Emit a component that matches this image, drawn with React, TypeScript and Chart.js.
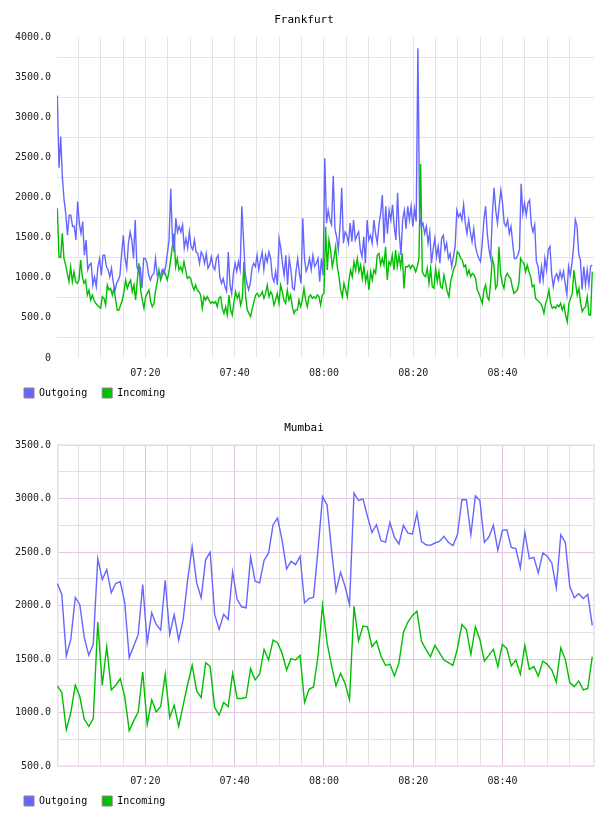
import React, { useEffect, useRef } from 'react';
import { Chart, registerables } from 'chart.js';

Chart.register(...registerables);

const FONT = '"DejaVu Sans Mono", monospace';
const SERIES_NAMES = ['Outgoing', 'Incoming'];
const SERIES_COLORS = ['rgb(102,102,255)', 'rgb(0,190,0)'];

// Sampling window (minutes after midnight) of the recorded data
const SAMPLE_START = 420.27; // ~07:00:16
const SAMPLE_END = 540.11; // ~09:00:07
// Axis window
const X_MIN = 420.2;
const X_MAX = 540.5;
const X_GRID_MINUTES = [425, 430, 435, 440, 445, 450, 455, 460, 465, 470, 475, 480, 485, 490, 495, 500, 505, 510, 515, 520, 525, 530, 535];
const X_TICK_LABELS = ['07:20', '07:40', '08:00', '08:20', '08:40'];

const FRANKFURT_Y_TICKS = [0, 250, 500, 750, 1000, 1250, 1500, 1750, 2000, 2250, 2500, 2750, 3000, 3250, 3500, 3750, 4000];
const MUMBAI_Y_TICKS = [500, 750, 1000, 1250, 1500, 1750, 2000, 2250, 2500, 2750, 3000, 3250, 3500];

const FRANKFURT_OUT = [
  3270, 2370, 2760, 2250,
  1970, 1800, 1530, 1780, 1780, 1640, 1645, 1470, 1950, 1680,
  1550, 1700, 1280, 1470, 1100, 1160, 1180, 910, 1010, 890,
  1140, 1240, 1030, 1280, 1280, 1140, 1100, 1010, 1120, 950,
  830, 930, 970, 1030, 1300, 1530, 1240, 1120, 1430, 1570,
  1470, 1240, 1720, 1140, 1080, 1120, 870, 1240, 1240, 1180,
  1030, 970, 1030, 1050, 1240, 1030, 1050, 1030, 1100, 1050,
  1140, 1300, 1470, 2110, 1470, 1320, 1740, 1570, 1640, 1570,
  1660, 1370, 1490, 1370, 1570, 1390, 1350, 1470, 1320, 1300,
  1180, 1320, 1280, 1180, 1300, 1120, 1160, 1260, 1140, 1100,
  1240, 1280, 1010, 930, 990, 890, 830, 1320, 910, 800,
  1050, 1180, 1080, 1200, 1100, 1890, 1470, 1050, 930, 850,
  930, 1120, 1180, 1140, 1280, 1100, 1220, 1320, 1100, 1280,
  1200, 1320, 1240, 1010, 950, 1080, 910, 1490, 1370, 1180,
  1030, 1280, 910, 1240, 1100, 870, 850, 1080, 1240, 1050,
  930, 1740,
  1240, 1080, 1140, 1240, 1100, 1280, 1140, 1180, 1240, 950,
  1240, 1030, 2490, 1680, 1840, 1720, 1660, 2270, 1610, 1510,
  1350, 1640, 2120, 1430, 1570, 1530, 1430, 1680, 1450, 1720,
  1470, 1530, 1570, 1350, 1260, 1510, 1180, 1720, 1470, 1530,
  1430, 1720, 1550, 1430, 1660, 1800, 2030, 1430, 1890, 1550,
  1840, 1720, 1910, 1640, 1470, 2060, 1550, 1280, 1720, 1840,
  1610, 1890, 1720, 1890, 1640, 1860, 1700, 3860, 1760, 1640,
  1680, 1550, 1640, 1430, 1570, 1180, 1350, 1490, 1260, 1390,
  1180, 1490, 1530, 1350, 1430, 1240, 1300, 1140, 1260, 1390,
  1840, 1760, 1800, 1720, 1910, 1680, 1550, 1720, 1570, 1450,
  1610, 1390, 1300, 1240, 1200, 1430, 1720, 1890, 1550, 1350,
  1240, 1800, 2120, 1840, 1680, 1890, 2090, 1930, 1680, 1640,
  1720, 1550, 1640, 1430, 1240, 1240, 1280, 1350, 2170, 1800,
  1930, 1780, 1930, 1970, 1660, 1570, 1660, 1200, 1140, 930,
  1140, 970, 1240, 1100, 1350, 1390, 1050, 890, 1010, 1050,
  970, 1080, 990, 1080, 930, 790, 1140, 1030, 1180, 1390,
  1720, 1640, 1300, 1220, 850, 1140, 910, 1100, 910, 1140,
  1160,
];

const FRANKFURT_IN = [
  1865, 1262, 1250, 1553, 1241,
  1158, 1054, 951, 1137, 951, 1075, 951, 930, 971, 1220,
  1013, 930, 971, 785, 847, 722, 785, 722, 681, 660,
  639, 619, 764, 743, 660, 909, 847, 868, 785, 868,
  722, 598, 598, 660, 722, 826, 971, 868, 930, 971,
  826, 909, 722, 971, 1179, 847, 722, 619, 764, 805,
  847, 702, 639, 681, 847, 951, 1096, 971, 1034, 1096,
  1034, 971, 1075, 1220, 1386, 1553, 1137, 1241, 1096, 1137,
  1075, 1200, 1096, 992, 1013, 992, 909, 847, 909, 847,
  826, 785, 619, 764, 722, 764, 722, 681, 702, 681,
  702, 639, 743, 764, 619, 556, 639, 535, 785, 598,
  535, 702, 826, 743, 805, 660, 743, 1200, 764, 598,
  556, 515, 619, 702, 785, 805, 764, 785, 826, 743,
  805, 909, 764, 826, 785, 660, 722, 805, 681, 909,
  826, 722, 681, 847, 722, 785, 639, 556, 598, 598,
  722, 639, 722, 868,
  722, 639, 764, 785, 743, 764, 743, 785, 764, 660,
  785, 805, 1636, 1096, 1470, 1345, 1137, 1241, 1386, 1137,
  1013, 847, 764, 930, 847, 764, 971, 1096, 1013, 1200,
  1096, 1241, 1075, 1158, 992, 1137, 951, 1054, 847, 1075,
  971, 1096, 1054, 1283, 1303, 1158, 1241, 1158, 1386, 971,
  1200, 1158, 1283, 1096, 1345, 1137, 1283, 1137, 1303, 868,
  1137, 1137, 1158, 1117, 1158, 1137, 1075, 1137, 1241, 2417,
  1075, 1034, 1013, 1117, 930, 1117, 888, 868, 1117, 951,
  1075, 888, 868, 1034, 930, 826, 764, 951, 1034, 1117,
  1158, 1324, 1303, 1241, 1220, 1137, 1158, 1034, 1096, 1013,
  1054, 1034, 992, 847, 805, 743, 681, 847, 909, 764,
  722, 930, 1241, 1158, 868, 909, 1386, 1054, 930, 868,
  1013, 1054, 1013, 992, 888, 805, 826, 847, 930, 1241,
  1200, 1179, 1075, 1158, 1075, 1013, 888, 909, 743, 722,
  702, 681, 639, 556, 681, 743, 847, 681, 619, 639,
  619, 660, 639, 681, 598, 660, 535, 452, 681, 743,
  805, 1096, 930, 785, 868, 681, 577, 619, 639, 764,
  535, 535, 1075,
];

const MUMBAI_OUT = [
  2205, 2103, 1528, 1683, 2075, 2010, 1699, 1534, 1637, 2438,
  2242, 2335, 2118, 2205, 2224, 2028, 1513, 1621, 1730, 2196,
  1652, 1932, 1823, 1770, 2236, 1730, 1916, 1677, 1870, 2242,
  2547, 2211, 2072, 2429, 2497, 1916, 1777, 1916, 1870, 2314,
  2056, 1988, 1978, 2454, 2227, 2211, 2422, 2491, 2755, 2817,
  2608, 2342, 2413, 2382, 2460, 2025, 2065, 2078, 2522, 3018,
  2941, 2522, 2133, 2310, 2180, 2009, 3050, 2981, 2994, 2832,
  2683, 2755, 2606, 2593, 2776, 2636, 2575, 2749, 2677, 2668,
  2864, 2599, 2568, 2562, 2584, 2599, 2646, 2590, 2559, 2661,
  2988, 2988, 2661, 3025, 2981, 2590, 2640, 2749, 2516, 2702,
  2708, 2543, 2531, 2351, 2683, 2438, 2450, 2304, 2491, 2460,
  2398, 2165, 2661, 2590, 2180, 2072, 2109, 2065, 2103, 1814,
];

const MUMBAI_IN = [
  1248, 1187, 838, 1000, 1255, 1149, 938, 870, 944, 1845,
  1255, 1615, 1211, 1255, 1317, 1149, 829, 922, 1006, 1379,
  891, 1118, 1006, 1056, 1357, 954, 1068, 870, 1068, 1264,
  1441, 1202, 1140, 1466, 1429, 1047, 975, 1093, 1056, 1366,
  1131, 1131, 1140, 1410, 1304, 1357, 1590, 1490, 1677, 1652,
  1553, 1397, 1503, 1490, 1534, 1093, 1217, 1239, 1528, 2000,
  1652, 1441, 1248, 1366, 1273, 1118, 1993, 1668, 1807, 1801,
  1615, 1668, 1528, 1441, 1450, 1341, 1466, 1751, 1845, 1907,
  1947, 1668, 1590, 1522, 1627, 1559, 1490, 1466, 1441, 1596,
  1823, 1776, 1543, 1801, 1683, 1481, 1534, 1590, 1429, 1637,
  1596, 1435, 1490, 1357, 1627, 1404, 1429, 1341, 1481, 1450,
  1397, 1285, 1605, 1497, 1280, 1242, 1295, 1211, 1224, 1522,
];

function toMinutes(label: string): number {
  const [h, m] = label.split(':').map(Number);
  return h * 60 + m;
}

function toPoints(values: number[]) {
  const n = values.length;
  return values.map((y, i) => ({ x: SAMPLE_START + ((SAMPLE_END - SAMPLE_START) * i) / (n - 1), y }));
}

function xLabel(v: number): string {
  const found = X_TICK_LABELS.find((l) => Math.abs(toMinutes(l) - v) < 0.01);
  return found || '';
}

function yLabel(v: number): string {
  if (v % 500 !== 0) return '';
  return v === 0 ? '0' : v.toFixed(1);
}

type Theme = {
  yMajor: string;
  yMinor: string;
  xMajor: string;
  xMinor: string;
  frame: string | null;
};

const FRANKFURT_THEME: Theme = {
  yMajor: 'rgba(0,0,0,0)',
  yMinor: 'rgb(228,228,228)',
  xMajor: 'rgb(228,228,228)',
  xMinor: 'rgb(228,228,228)',
  frame: null,
};

const MUMBAI_THEME: Theme = {
  yMajor: 'rgb(226,200,226)',
  yMinor: 'rgb(226,222,226)',
  xMajor: 'rgb(222,196,222)',
  xMinor: 'rgb(226,222,226)',
  frame: 'rgb(240,220,240)',
};

function buildConfig(title: string, outVals: number[], inVals: number[], yTicks: number[], theme: Theme): any {
  const tickFont = { family: FONT, size: 10 };
  const framePlugin = {
    id: 'frame',
    beforeDatasetsDraw(chart: any) {
      if (!theme.frame) return;
      const { ctx, chartArea: a } = chart;
      ctx.save();
      ctx.strokeStyle = theme.frame;
      ctx.lineWidth = 1.5;
      ctx.strokeRect(a.left + 0.75, a.top, a.right - a.left - 0.75, a.bottom - a.top);
      ctx.restore();
    },
  };
  return {
    type: 'line',
    data: {
      datasets: [
        {
          label: SERIES_NAMES[0],
          data: toPoints(outVals),
          borderColor: SERIES_COLORS[0],
          backgroundColor: SERIES_COLORS[0],
          borderWidth: 1.4,
          pointRadius: 0,
          tension: 0,
          fill: false,
        },
        {
          label: SERIES_NAMES[1],
          data: toPoints(inVals),
          borderColor: SERIES_COLORS[1],
          backgroundColor: SERIES_COLORS[1],
          borderWidth: 1.4,
          pointRadius: 0,
          tension: 0,
          fill: false,
        },
      ],
    },
    options: {
      animation: false,
      responsive: false,
      maintainAspectRatio: false,
      events: [],
      layout: { padding: { left: 9, right: 9, top: 0, bottom: 0 } },
      plugins: {
        title: {
          display: true,
          text: title,
          color: '#000',
          font: { family: FONT, size: 11, weight: 'normal' },
          padding: { top: 14, bottom: 9.8 },
        },
        legend: {
          display: true,
          position: 'bottom',
          align: 'start',
          labels: {
            font: { family: FONT, size: 10 },
            color: '#000',
            boxWidth: 10,
            boxHeight: 10,
            padding: 15,
            generateLabels: (chart: any) =>
              chart.data.datasets.map((ds: any, i: number) => ({
                text: ds.label,
                fillStyle: ds.borderColor,
                strokeStyle: '#888',
                lineWidth: 1,
                hidden: false,
                datasetIndex: i,
                fontColor: '#000',
              })),
          },
        },
        tooltip: { enabled: false },
      },
      scales: {
        x: {
          type: 'linear',
          min: X_MIN,
          max: X_MAX,
          afterBuildTicks: (s: any) => {
            s.ticks = X_GRID_MINUTES.map((v) => ({ value: v }));
          },
          afterFit: (s: any) => {
            s.height = 15;
            // let the time labels extend below the (short) axis box instead of being clipped
            s._computeLabelArea = () => undefined;
          },
          ticks: {
            autoSkip: false,
            maxRotation: 0,
            minRotation: 0,
            padding: 9,
            font: tickFont,
            color: '#222',
            callback: (v: number) => xLabel(v),
          },
          grid: {
            drawTicks: false,
            color: (ctx: any) => (ctx.tick && ctx.tick.value % 20 === 0 ? theme.xMajor : theme.xMinor),
            lineWidth: 1,
          },
          border: { display: false },
        },
        y: {
          type: 'linear',
          min: yTicks[0],
          max: yTicks[yTicks.length - 1],
          afterBuildTicks: (s: any) => {
            s.ticks = yTicks.map((v) => ({ value: v }));
          },
          afterFit: (s: any) => {
            s.width = 48;
          },
          ticks: {
            autoSkip: false,
            padding: 6,
            font: tickFont,
            color: '#222',
            callback: (v: number) => yLabel(v),
          },
          grid: {
            drawTicks: false,
            color: (ctx: any) => (ctx.tick && ctx.tick.value % 500 === 0 ? theme.yMajor : theme.yMinor),
            lineWidth: 1,
          },
          border: { display: false },
        },
        yRightSpacer: {
          type: 'linear',
          position: 'right',
          display: true,
          afterFit: (s: any) => {
            s.width = 5;
          },
          grid: { display: false, drawTicks: false },
          ticks: { display: false },
          border: { display: false },
        },
      },
    },
    plugins: [framePlugin],
  };
}

function ChartCanvas({ title, outVals, inVals, yTicks, theme }: { title: string; outVals: number[]; inVals: number[]; yTicks: number[]; theme: Theme }) {
  const ref = useRef<HTMLCanvasElement | null>(null);
  useEffect(() => {
    if (!ref.current) return;
    const chart = new Chart(ref.current, buildConfig(title, outVals, inVals, yTicks, theme));
    return () => chart.destroy();
  }, [title, outVals, inVals, yTicks, theme]);
  return <canvas ref={ref} width={608} height={408} style={{ display: 'block', width: 608, height: 408 }} />;
}

export default function App() {
  return (
    <div style={{ position: 'absolute', left: 0, top: 0, width: 608, height: 816, background: '#fff' }}>
      <ChartCanvas title="Frankfurt" outVals={FRANKFURT_OUT} inVals={FRANKFURT_IN} yTicks={FRANKFURT_Y_TICKS} theme={FRANKFURT_THEME} />
      <ChartCanvas title="Mumbai" outVals={MUMBAI_OUT} inVals={MUMBAI_IN} yTicks={MUMBAI_Y_TICKS} theme={MUMBAI_THEME} />
    </div>
  );
}
